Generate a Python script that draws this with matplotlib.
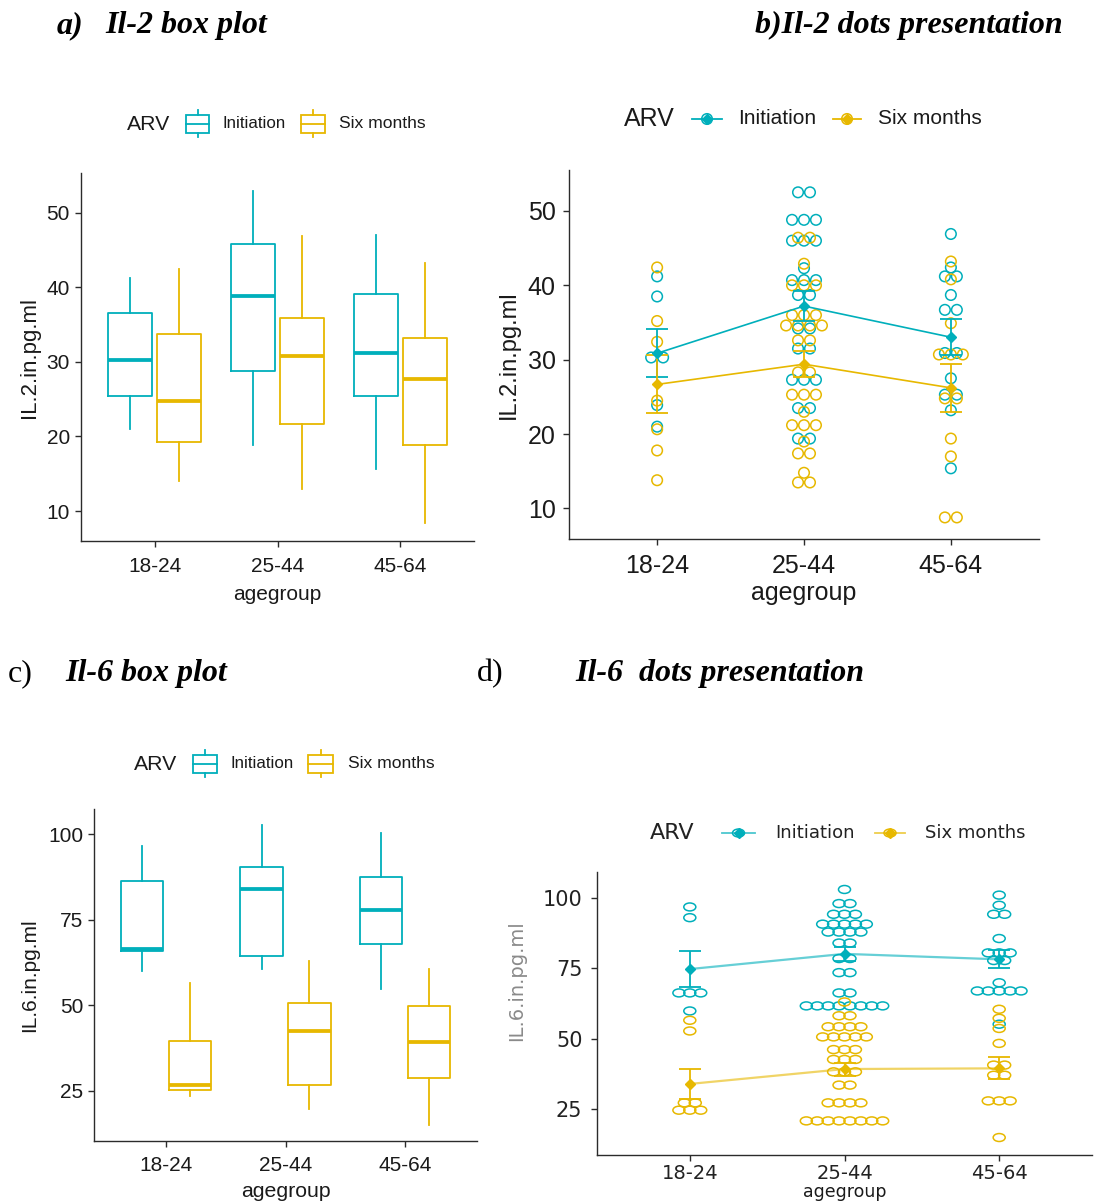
import numpy as np
import matplotlib
matplotlib.use('Agg')
import matplotlib.pyplot as plt
from matplotlib.path import Path
from matplotlib.transforms import Affine2D
from matplotlib.patches import Rectangle

W, H = 1098, 1202
CYAN = '#00AFBB'
GOLD = '#E7B800'
SANS = ['Liberation Sans', 'DejaVu Sans']
SERIF = ['Liberation Serif', 'DejaVu Serif']

agegroups = ['18-24', '25-44', '45-64']
arv_levels = ['Initiation', 'Six months']

# box statistics per age group: whisker low, Q1, median, Q3, whisker high
il2_box_init = [[21.0, 25.4, 30.3, 36.6, 41.3],
                [18.8, 28.8, 38.8, 45.8, 52.9],
                [15.6, 25.45, 31.25, 39.15, 47.05]]
il2_box_six = [[14.1, 19.3, 24.7, 33.7, 42.5],
               [12.9, 21.7, 30.85, 35.9, 46.9],
               [8.35, 18.9, 27.7, 33.2, 43.3]]
il6_box_init = [[59.9, 66.0, 66.3, 86.2, 96.4],
                [60.7, 64.3, 84.0, 90.5, 102.6],
                [54.9, 67.9, 77.8, 87.5, 100.2]]
il6_box_six = [[23.6, 25.4, 26.8, 39.7, 56.5],
               [19.7, 26.6, 42.6, 50.7, 62.8],
               [15.0, 28.8, 39.2, 49.9, 60.6]]

# individual IL-2 values (pg/ml) per age group
il2_init = [
    [41.2, 38.5, 30.3, 30.3, 23.9, 21.0],
    [52.5, 52.5, 48.8, 48.8, 48.8, 46.0, 46.0, 46.0, 42.3, 40.7, 40.7, 40.7,
     38.7, 38.7, 34.2, 34.2, 31.5, 31.5, 27.3, 27.3, 27.3, 23.5, 23.5, 19.4, 19.4],
    [46.9, 42.4, 41.2, 41.2, 38.7, 36.7, 36.7, 30.9, 30.9, 27.5, 25.3, 25.3, 23.2, 15.4],
]
il2_six = [
    [42.4, 35.2, 32.4, 24.5, 20.65, 17.8, 13.8],
    [46.4, 46.4, 42.9, 40.0, 40.0, 40.0, 36.0, 36.0, 36.0, 34.6, 34.6, 34.6, 34.6,
     32.6, 32.6, 28.3, 28.3, 25.3, 25.3, 25.3, 23.0, 21.2, 21.2, 21.2, 19.0,
     17.4, 17.4, 14.8, 13.5, 13.5],
    [43.2, 40.8, 34.9, 30.7, 30.7, 30.7, 24.8, 24.8, 19.4, 17.0, 8.8, 8.8],
]

# individual IL-6 values (pg/ml) per age group
il6_init = [
    [96.8, 93.0, 66.3, 66.3, 66.3, 59.9],
    [103.0, 98.0, 98.0, 94.2, 94.2, 94.2, 90.7, 90.7, 90.7, 90.7, 90.7,
     87.9, 87.9, 87.9, 87.9, 84.0, 84.0, 78.5, 78.5, 73.5, 73.5, 66.3, 66.3,
     61.7, 61.7, 61.7, 61.7, 61.7, 61.7, 61.7, 61.7],
    [101.0, 97.4, 94.2, 94.2, 85.6, 80.5, 80.5, 80.5, 77.8, 77.8, 69.9,
     67.0, 67.0, 67.0, 67.0, 67.0, 55.2],
]
il6_six = [
    [56.6, 52.8, 27.3, 27.3, 24.7, 24.7, 24.7],
    [63.1, 58.2, 58.2, 54.3, 54.3, 54.3, 54.3, 50.7, 50.7, 50.7, 50.7, 50.7,
     46.2, 46.2, 46.2, 42.7, 42.7, 42.7, 38.3, 38.3, 38.3, 33.6, 33.6,
     27.3, 27.3, 27.3, 27.3, 20.9, 20.9, 20.9, 20.9, 20.9, 20.9, 20.9, 20.9],
    [60.5, 57.3, 53.7, 48.4, 40.7, 40.7, 37.1, 37.1, 28.0, 28.0, 28.0, 15.0],
]

fig = plt.figure(figsize=(W / 100, H / 100), dpi=100)
fig.patch.set_facecolor('white')


def add_ax(l, t, r, b):
    ax = fig.add_axes([l / W, 1 - b / H, (r - l) / W, (b - t) / H])
    ax.set_facecolor('none')
    for s in ['top', 'right']:
        ax.spines[s].set_visible(False)
    for s in ['left', 'bottom']:
        ax.spines[s].set_linewidth(1.0)
        ax.spines[s].set_color('#2b2b2b')
    ax.set_xticks([1, 2, 3])
    ax.set_xticklabels(agegroups)
    ax.set_xlim(0.4, 3.6)
    return ax


def style_ticks(ax, size, xpad, ypad, family=SANS, color='#1a1a1a'):
    ax.tick_params(direction='out', length=4.5, width=1.0, color='#2b2b2b',
                   labelsize=size, labelcolor=color)
    ax.tick_params(axis='x', pad=xpad)
    ax.tick_params(axis='y', pad=ypad)
    for lab in ax.get_xticklabels() + ax.get_yticklabels():
        lab.set_family(family)


def set_labels(ax, ylabel, xsize, ysize, ylx, yly, xly, family=SANS, ycolor='#1a1a1a'):
    ax.set_xlabel('agegroup', fontsize=xsize, family=family, color='#1a1a1a')
    ax.set_ylabel(ylabel, fontsize=ysize, family=family, color=ycolor)
    ax.xaxis.label.set_va('baseline')
    ax.yaxis.label.set_va('center')
    ax.xaxis.set_label_coords(0.5, xly)
    ax.yaxis.set_label_coords(ylx, yly)


def draw_boxes(ax, init_stats, six_stats, lw=1.3):
    for stats, color, off in [(init_stats, CYAN, -0.2), (six_stats, GOLD, 0.2)]:
        bstats = [dict(whislo=s[0], q1=s[1], med=s[2], q3=s[3], whishi=s[4], fliers=[])
                  for s in stats]
        ax.bxp(bstats, positions=[i + 1 + off for i in range(len(stats))], widths=0.355,
               showcaps=False, showfliers=False, manage_ticks=False,
               boxprops=dict(color=color, lw=lw),
               whiskerprops=dict(color=color, lw=lw),
               medianprops=dict(color=color, lw=lw * 2.1, solid_capstyle='butt'))


def stack(values, center, step):
    xs, ys = [], []
    vals, counts = np.unique(values, return_counts=True)
    for v, n in zip(vals, counts):
        for k in range(n):
            xs.append(center + (k - (n - 1) / 2) * step)
            ys.append(v)
    return xs, ys


def draw_dots(ax, series, step, marker, msize, line_alpha=1.0, lw=1.2, capsize=7.9):
    for groups, color in series:
        for i, vals in enumerate(groups):
            xs, ys = stack(vals, i + 1, step)
            ax.scatter(xs, ys, s=msize, marker=marker, facecolors='none',
                       edgecolors=color, linewidths=1.1, zorder=2)
        means = [np.mean(v) for v in groups]
        ses = [np.std(v, ddof=1) / np.sqrt(len(v)) for v in groups]
        x = np.arange(1, len(groups) + 1)
        ax.plot(x, means, color=color, lw=lw, alpha=line_alpha, zorder=3)
        ax.errorbar(x, means, yerr=ses, fmt='none', ecolor=color, elinewidth=1.3,
                    capsize=capsize, capthick=1.3, zorder=4)
        ax.plot(x, means, 'D', color=color, ms=5.5, zorder=5)


# a) IL-2 box plot
ax_a = add_ax(81, 173, 474, 541)
draw_boxes(ax_a, il2_box_init, il2_box_six)
ax_a.set_ylim(6.0, 55.3)
ax_a.set_yticks([10, 20, 30, 40, 50])
style_ticks(ax_a, 15, 7, 3.5)
set_labels(ax_a, 'IL.2.in.pg.ml', 15, 16, -0.13, 0.5, -0.16)

# b) IL-2 dots
ax_b = add_ax(569, 170, 1039, 539)
draw_dots(ax_b, [(il2_init, CYAN), (il2_six, GOLD)], 0.0814, 'o', 58)
ax_b.set_ylim(5.9, 55.5)
ax_b.set_yticks([10, 20, 30, 40, 50])
style_ticks(ax_b, 18, 6, 5)
set_labels(ax_b, 'IL.2.in.pg.ml', 18, 17, -0.128, 0.5, -0.165)

# c) IL-6 box plot
ax_c = add_ax(94, 809, 477, 1141)
draw_boxes(ax_c, il6_box_init, il6_box_six)
ax_c.set_ylim(10.4, 107.3)
ax_c.set_yticks([25, 50, 75, 100])
style_ticks(ax_c, 15, 6, 3)
set_labels(ax_c, 'IL.6.in.pg.ml', 15.3, 15, -0.167, 0.5, -0.168)

# d) IL-6 dots
ellipse = Path.unit_circle().transformed(Affine2D().scale(1.0, 0.66))
ax_d = add_ax(597, 872, 1092, 1155)
draw_dots(ax_d, [(il6_init, CYAN), (il6_six, GOLD)], 0.0705, ellipse, 75,
          line_alpha=0.6, lw=1.6, capsize=7.9)
ax_d.set_ylim(8.8, 109.2)
ax_d.set_yticks([25, 50, 75, 100])
style_ticks(ax_d, 14, 2, 6, family=['DejaVu Sans'], color='#222222')
ax_d.tick_params(axis='y', labelsize=15)
set_labels(ax_d, 'IL.6.in.pg.ml', 12.5, 14, -0.162, 0.615, -0.15,
           family=['DejaVu Sans'], ycolor='#8a8a8a')

# titles and legends on a pixel-space overlay
ov = fig.add_axes([0, 0, 1, 1])
ov.set_xlim(0, W)
ov.set_ylim(H, 0)
ov.axis('off')
ov.patch.set_visible(False)

ov.text(57, 33, 'a)', fontsize=23, family=SERIF, weight='bold', style='italic', va='baseline')
ov.text(105, 33, 'Il-2 box plot', fontsize=23, family=SERIF, weight='bold', style='italic', va='baseline')
ov.text(755, 33, 'b)Il-2 dots presentation', fontsize=23, family=SERIF, weight='bold',
        style='italic', va='baseline')
ov.text(8, 681, 'c)', fontsize=23, family=SERIF, va='baseline')
ov.text(65, 681, 'Il-6 box plot', fontsize=23, family=SERIF, weight='bold', style='italic', va='baseline')
ov.text(477, 681, 'd)', fontsize=23, family=SERIF, va='baseline')
ov.text(575, 681, 'Il-6  dots presentation', fontsize=23, family=SERIF, weight='bold',
        style='italic', va='baseline')


def box_key(x0, x1, yc, color):
    h = 18
    ov.add_patch(Rectangle((x0, yc - h / 2), x1 - x0, h, fill=False, ec=color, lw=1.3))
    ov.plot([x0, x1], [yc, yc], color=color, lw=1.3)
    xm = (x0 + x1) / 2
    ov.plot([xm, xm], [yc - h / 2 - 5, yc - h / 2], color=color, lw=1.3)
    ov.plot([xm, xm], [yc + h / 2, yc + h / 2 + 4], color=color, lw=1.3)


def line_key(x0, x1, yc, color, marker, msize, alpha=1.0):
    xm = (x0 + x1) / 2
    ov.plot([x0, x1], [yc, yc], color=color, lw=1.3, alpha=alpha)
    ov.scatter([xm], [yc], s=msize, marker=marker, facecolors='none', edgecolors=color, linewidths=1.1)
    ov.plot([xm], [yc], 'D', color=color, ms=5.5)


for yc, xs in [(124, (127, 186, 209, 223, 301, 325, 339)),
               (764, (134, 193, 217, 231, 308, 333, 348))]:
    ov.text(xs[0], yc, 'ARV', fontsize=15.3, family=SANS, va='center', color='#1a1a1a')
    box_key(xs[1], xs[2], yc, CYAN)
    ov.text(xs[3], yc, arv_levels[0], fontsize=12.2, family=SANS, va='center', color='#1a1a1a')
    box_key(xs[4], xs[5], yc, GOLD)
    ov.text(xs[6], yc, arv_levels[1], fontsize=12.6, family=SANS, va='center', color='#1a1a1a')

ov.text(624, 119, 'ARV', fontsize=18, family=SANS, va='center', color='#1a1a1a')
line_key(692, 722, 119, CYAN, 'o', 58)
ov.text(738, 119, arv_levels[0], fontsize=15, family=SANS, va='center', color='#1a1a1a')
line_key(833, 861, 119, GOLD, 'o', 58)
ov.text(878, 119, arv_levels[1], fontsize=15, family=SANS, va='center', color='#1a1a1a')

ov.text(650, 833, 'ARV', fontsize=16, family=['DejaVu Sans'], va='center', color='#222222')
line_key(722, 755, 833, CYAN, ellipse, 75, alpha=0.7)
ov.text(775, 833, arv_levels[0], fontsize=13, family=['DejaVu Sans'], va='center', color='#222222')
line_key(875, 905, 833, GOLD, ellipse, 75, alpha=0.7)
ov.text(925, 833, arv_levels[1], fontsize=13, family=['DejaVu Sans'], va='center', color='#222222')

fig.savefig('out.png', dpi=100, facecolor='white')
